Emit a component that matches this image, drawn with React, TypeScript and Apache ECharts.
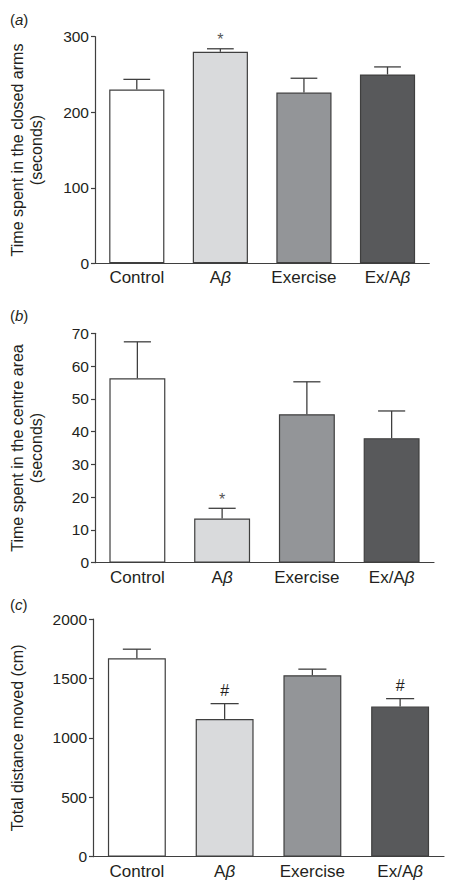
import React, { useEffect, useRef } from 'react';
import * as echarts from 'echarts';

const categories = ['Control', 'Aβ', 'Exercise', 'Ex/Aβ'];

const closedArmsMean = [230, 280, 226, 250];
const closedArmsSem = [13.5, 4, 19, 10];
const closedArmsMarks = ['', '*', '', ''];

const centreMean = [56.3, 13.5, 45.3, 38.0];
const centreSem = [11.1, 3.1, 9.9, 8.3];
const centreMarks = ['', '*', '', ''];

const distanceMean = [1670, 1159, 1527, 1263];
const distanceSem = [76, 129, 51, 67];
const distanceMarks = ['', '#', '', '#'];

const panelLetters = ['a', 'b', 'c'];
const axisNames = [
  'Time spent in the closed arms\n(seconds)',
  'Time spent in the centre area\n(seconds)',
  'Total distance moved (cm)',
];
const axisMax = [300, 70, 2000];
const axisInterval = [100, 10, 500];

const barColors = ['#ffffff', '#d9dadc', '#939598', '#58595b'];

const FONT = '"Liberation Sans", Arial, Helvetica, sans-serif';
const INK = '#231f20';
const LINE = '#3f3f3f';

const grids = [
  { left: 89.3, top: 36.7, width: 340, height: 226.6 },
  { left: 89.3, top: 333.3, width: 344.7, height: 229.4 },
  { left: 89.3, top: 619, width: 354.7, height: 237.7 },
];
const nameGaps = [49, 49, 66];
const titleTops = [7, 303, 592];

export default function App() {
  const ref = useRef<HTMLDivElement>(null);

  useEffect(() => {
    document.body.style.margin = '0';
    if (!ref.current) return;
    const chart = echarts.init(ref.current, null, { renderer: 'svg' });

    const means = [closedArmsMean, centreMean, distanceMean];
    const sems = [closedArmsSem, centreSem, distanceSem];
    const marks = [closedArmsMarks, centreMarks, distanceMarks];

    const series: any[] = [];
    for (let p = 0; p < 3; p++) {
      series.push({
        type: 'bar',
        xAxisIndex: p,
        yAxisIndex: p,
        barWidth: '66%',
        data: means[p].map((v, i) => ({
          value: v,
          itemStyle: { color: barColors[i], borderColor: LINE, borderWidth: 1.2 },
        })),
        z: 2,
      });
      const pm = marks[p];
      series.push({
        type: 'custom',
        xAxisIndex: p,
        yAxisIndex: p,
        z: 3,
        data: means[p].map((v, i) => [i, v, v + sems[p][i]]),
        renderItem: (params: any, api: any) => {
          const x = api.value(0);
          const lo = api.coord([x, api.value(1)]);
          const hi = api.coord([x, api.value(2)]);
          const half = api.size([1, 0])[0] * 0.16;
          const children: any[] = [
            { type: 'line', shape: { x1: lo[0], y1: lo[1], x2: hi[0], y2: hi[1] }, style: { stroke: LINE, lineWidth: 1.3 } },
            { type: 'line', shape: { x1: hi[0] - half, y1: hi[1], x2: hi[0] + half, y2: hi[1] }, style: { stroke: LINE, lineWidth: 1.3 } },
          ];
          const m = pm[params.dataIndex];
          if (m) {
            children.push({
              type: 'text',
              style: {
                text: m,
                x: hi[0],
                y: hi[1] - (m === '*' ? 1 : 5),
                align: 'center',
                verticalAlign: 'bottom',
                fontSize: 16,
                fontFamily: FONT,
                fill: m === '*' ? '#555' : INK,
              },
            });
          }
          return { type: 'group', children };
        },
      });
    }

    const option: any = {
      animation: false,
      backgroundColor: '#ffffff',
      title: panelLetters.map((l, p) => ({
        text: `(${'{i|' + l + '}'})`,
        left: 5,
        top: titleTops[p],
        textStyle: {
          fontSize: 15,
          fontWeight: 'normal',
          fontFamily: FONT,
          color: INK,
          rich: { i: { fontStyle: 'italic', fontSize: 15, fontFamily: FONT, color: INK } },
        },
      })),
      grid: grids.map((g) => ({ ...g, containLabel: false })),
      xAxis: grids.map((_, p) => ({
        type: 'category',
        gridIndex: p,
        data: categories,
        axisLine: { lineStyle: { color: LINE, width: 1.2 } },
        axisTick: { show: false },
        axisLabel: {
          interval: 0,
          color: INK,
          fontSize: 17,
          fontFamily: FONT,
          margin: 6,
          formatter: (v: string) => v.replace('β', '{g|β}'),
          rich: { g: { fontStyle: 'italic', fontSize: 17, fontFamily: FONT, color: INK } },
        },
        splitLine: { show: false },
      })),
      yAxis: grids.map((_, p) => ({
        type: 'value',
        gridIndex: p,
        min: 0,
        max: axisMax[p],
        interval: axisInterval[p],
        name: axisNames[p],
        nameLocation: 'middle',
        nameGap: nameGaps[p],
        nameTextStyle: { color: INK, fontSize: 16, fontFamily: FONT, lineHeight: 19 },
        axisLine: { show: true, lineStyle: { color: LINE, width: 1.2 } },
        axisTick: { show: true, length: 4, lineStyle: { color: LINE, width: 1.2 } },
        axisLabel: {
          color: INK,
          fontSize: 15.5,
          fontFamily: FONT,
          margin: 6,
          formatter: (v: number) => String(v),
        },
        splitLine: { show: false },
      })),
      series,
    };

    chart.setOption(option);
    return () => chart.dispose();
  }, []);

  return <div ref={ref} style={{ width: 450, height: 887 }} />;
}
